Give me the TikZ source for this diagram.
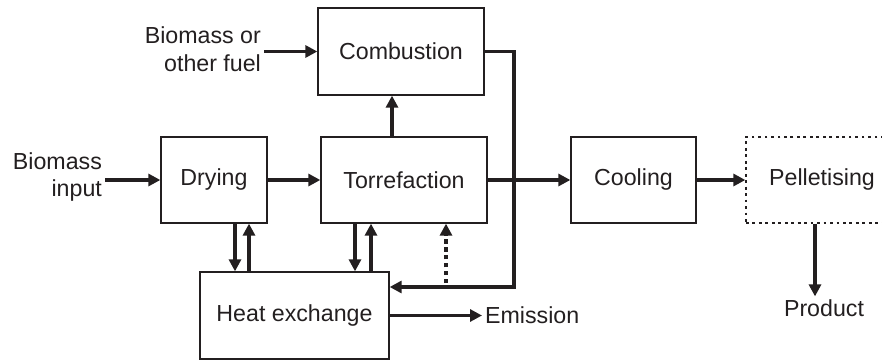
\documentclass[tikz,border=0pt]{standalone}
\usepackage{xcolor}
\usepackage{fontspec}
\setmainfont{Liberation Sans}
\usetikzlibrary{calc}
\usetikzlibrary{arrows.meta}
\tikzset{>=latex}
\definecolor{ink}{RGB}{35,31,32}
\tikzstyle{box} = [rectangle, draw=ink, line width=0.9pt, inner sep=0pt, text=ink]
\tikzstyle{lbl} = [inner sep=2pt, text=ink, align=right]
\tikzstyle{flow} = [-{Triangle[length=8.5pt, width=8.5pt]}, draw=ink, line width=2.2pt]

\begin{document}
\begin{tikzpicture}[x=0.025cm, y=-0.025cm, font=\fontsize{16.5}{19.5}\selectfont]
\useasboundingbox (0,0) rectangle (882,361);
\node [box, minimum width=2.65cm, minimum height=2.15cm] (dry) at (214, 180) {Drying};
\node [box, minimum width=4.15cm, minimum height=2.15cm] (torr) at (404, 180) {Torrefaction};
\node [box, minimum width=3.125cm, minimum height=2.15cm] (cool) at (633.5, 180) {Cooling};
\node [box, dash pattern=on 2pt off 2.6pt, minimum width=3.8cm, minimum height=2.15cm] (pel) at (822, 180) {Pelletising};
\node [box, minimum width=4.15cm, minimum height=2.175cm] (comb) at (401, 51.5) {Combustion};
\node [box, minimum width=4.725cm, minimum height=2.175cm] (heat) at (294.5, 315.5) {Heat exchange};
\node [lbl, anchor=east] (input) at (105, 177) {Biomass\\input};
\node [lbl, anchor=east] (fuel) at (264, 49) {Biomass or\\other fuel};
\node [lbl, anchor=west] (emis) at (482, 315.5) {Emission};
\node [lbl] (prod) at (824, 308) {Product};
\coordinate (back) at (514, 287);
\coordinate (hint) at (446, 283);
\draw [flow] (input.east |- dry.west) to (dry.west);
\draw [flow] (fuel.east |- comb.west) to (comb.west);
\draw [flow] (dry.east) to (torr.west);
\draw [flow] (torr.east) to (cool.west);
\draw [flow] (cool.east) to (pel.west);
\draw [flow] (torr.north -| 392,0) to (comb.south -| 392,0);
\draw [flow] (comb.east) -| (back) -- (heat.east |- back);
\draw [flow, dash pattern=on 3.2pt off 2.4pt] (hint) to (hint |- torr.south);
\draw [flow] (dry.south -| 235,0) to (heat.north -| 235,0);
\draw [flow] (heat.north -| 249,0) to (dry.south -| 249,0);
\draw [flow] (torr.south -| 355,0) to (heat.north -| 355,0);
\draw [flow] (heat.north -| 371,0) to (torr.south -| 371,0);
\draw [flow] (heat.east) to (emis.west);
\draw [flow] (pel.south -| 815,0) to (prod.north -| 815,0);
\end{tikzpicture}
\end{document}
